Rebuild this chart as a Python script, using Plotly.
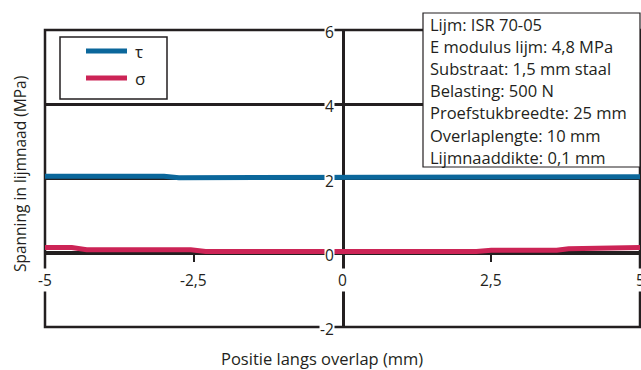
import plotly.graph_objects as go

# ---- data ----
tau_x = [-5, -3.0, -2.75, 2.75, 3.0, 5]
tau_y = [2.06, 2.06, 2.02, 2.02, 2.05, 2.05]

sigma_x = [-5, -4.55, -4.3, -2.55, -2.3, 2.25, 2.5, 3.6, 3.8, 4.4, 4.6, 5]
sigma_y = [0.14, 0.14, 0.08, 0.08, 0.035, 0.035, 0.07, 0.07, 0.11, 0.11, 0.14, 0.14]

x_tick_vals = [-5, -2.5, 0, 2.5, 5]
x_tick_text = ["-5", "-2,5", "0", "2,5", "5"]
y_tick_vals = [6, 4, 2, 0, -2]
y_tick_text = ["6", "4", "2", "0", "-2"]

info_lines = [
    "Lijm: ISR 70-05",
    "E modulus lijm: 4,8 MPa",
    "Substraat: 1,5 mm staal",
    "Belasting: 500 N",
    "Proefstukbreedte: 25 mm",
    "Overlaplengte: 10 mm",
    "Lijmnaaddikte: 0,1 mm",
]

x_title = "Positie langs overlap (mm)"
y_title = "Spanning in lijmnaad (MPa)"

# ---- styling ----
W, H = 641, 370
ML, MR, MT, MB = 45, 1, 30, 43
PW, PH = W - ML - MR, H - MT - MB
INK = "#231f20"
BLUE = "#0b679b"
RED = "#cc2456"
FONT = "Open Sans"


def px(xp):
    return (xp - ML) / PW


def py(yp):
    return (H - MB - yp) / PH


fig = go.Figure()
fig.add_trace(go.Scatter(x=tau_x, y=tau_y, mode="lines", name="τ",
                         line=dict(color=BLUE, width=5), showlegend=False))
fig.add_trace(go.Scatter(x=sigma_x, y=sigma_y, mode="lines", name="σ",
                         line=dict(color=RED, width=5), showlegend=False))

shapes = []
# outer frame
shapes.append(dict(type="rect", xref="paper", yref="paper", x0=0, x1=1, y0=0, y1=1,
                   line=dict(color=INK, width=2.5), layer="below"))
# legend box
shapes.append(dict(type="rect", xref="paper", yref="paper",
                   x0=px(60), x1=px(167), y0=py(37), y1=py(99),
                   line=dict(color=INK, width=1.5), fillcolor="white", layer="above"))
for yy, col in [(51, BLUE), (78, RED)]:
    shapes.append(dict(type="line", xref="paper", yref="paper",
                       x0=px(86), x1=px(127), y0=py(yy), y1=py(yy),
                       line=dict(color=col, width=5), layer="above"))
# info box
shapes.append(dict(type="rect", xref="paper", yref="paper",
                   x0=px(423), x1=px(640), y0=py(13), y1=py(167),
                   line=dict(color=INK, width=1.2), fillcolor="white", layer="above"))

annotations = []
for name, yy in [("τ", 51), ("σ", 78)]:
    annotations.append(dict(xref="paper", yref="paper", x=px(133), y=py(yy), text=name,
                            showarrow=False, xanchor="left", yanchor="middle",
                            font=dict(family=FONT, size=17, color=INK)))
for i, line in enumerate(info_lines):
    annotations.append(dict(xref="paper", yref="paper", x=px(428), y=py(25 + 22 * i),
                            text=line, showarrow=False, xanchor="left", yanchor="middle",
                            font=dict(family=FONT, size=16.5, color=INK)))
for v, t in zip(y_tick_vals, y_tick_text):
    annotations.append(dict(xref="x", yref="y", x=0, y=v, text=t, showarrow=False,
                            xanchor="right", yanchor="middle", xshift=-8, yshift=-2,
                            bgcolor="white", borderpad=0,
                            font=dict(family=FONT, size=15.5, color=INK)))
for v, t in zip(x_tick_vals, x_tick_text):
    annotations.append(dict(xref="x", yref="y", x=v, y=0, text=t, showarrow=False,
                            xanchor="center", yanchor="middle", yshift=-27,
                            bgcolor="white", borderpad=0,
                            font=dict(family=FONT, size=15.5, color=INK)))
annotations.append(dict(xref="paper", yref="paper", x=px(322), y=py(358), text=x_title,
                        showarrow=False, xanchor="center", yanchor="middle",
                        font=dict(family=FONT, size=16.5, color=INK)))
annotations.append(dict(xref="paper", yref="paper", x=px(20), y=py(174), text=y_title,
                        showarrow=False, xanchor="center", yanchor="middle", textangle=-90,
                        font=dict(family=FONT, size=15.5, color=INK)))

fig.update_layout(
    width=W, height=H,
    margin=dict(l=ML, r=MR, t=MT, b=MB, pad=0),
    paper_bgcolor="white", plot_bgcolor="white",
    showlegend=False,
    shapes=shapes, annotations=annotations,
    xaxis=dict(range=[-5, 5], anchor="free", position=0.25, showline=True,
               linecolor=INK, linewidth=2.5, showgrid=False, zeroline=False,
               ticks="outside", tickvals=[-2.5, 2.5], ticklen=7, tickwidth=2,
               tickcolor=INK, showticklabels=False, layer="below traces",
               fixedrange=True),
    yaxis=dict(range=[-2, 6], anchor="free", position=0.5, showline=True,
               linecolor=INK, linewidth=2.5, showgrid=True, gridcolor=INK,
               gridwidth=2.5, tickvals=y_tick_vals, zeroline=False, ticks="",
               showticklabels=False, layer="below traces", fixedrange=True),
)

fig.write_html(
    "out.html",
    config={"displayModeBar": False},
    post_script="document.body.style.margin='0';document.body.style.overflow='hidden';",
)
